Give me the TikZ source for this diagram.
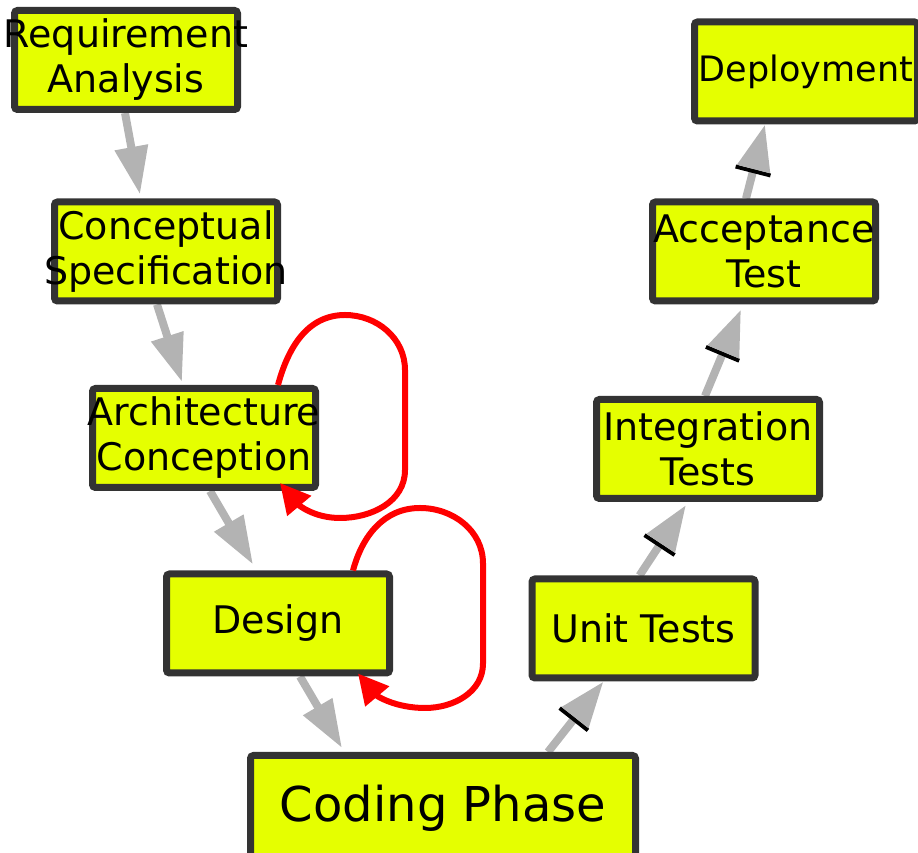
\documentclass[tikz,border=0pt]{standalone}
\usepackage{fontspec}
\setmainfont{DejaVu Sans}
\usetikzlibrary{arrows.meta, backgrounds}
\definecolor{phasefill}{HTML}{E5FF00}
\definecolor{phaseedge}{HTML}{333333}
\definecolor{flowgray}{HTML}{B3B3B3}
\newcommand{\fitline}[1]{\makebox[0pt]{#1}}
\tikzset{
  phase node/.style={
    rounded corners=3pt,
    draw=phaseedge,
    line width=7pt,
    fill=phasefill,
    align=center,
    inner sep=0pt,
    minimum width=223pt,
    minimum height=99pt,
    font=\fontsize{38}{45}\selectfont,
  },
  flow arrow/.style={
    draw=flowgray,
    line width=8pt,
    -{Triangle[width=32pt,length=48pt]},
  },
  test arrow/.style={
    draw=flowgray,
    line width=8pt,
    -{Bar[color=black,width=36pt,line width=4pt]Triangle[width=32pt,length=46pt,sep=0pt]},
  },
  loop arrow/.style={
    draw=red,
    line width=6pt,
    -{Triangle[width=30pt,length=30pt]},
  },
}

\begin{document}
\begin{tikzpicture}[x=1pt, y=1pt]
      \useasboundingbox (0,0) rectangle (918,853);

      % left branch
      \node[phase node] (req) at (126,793) {\fitline{Requirement}\\\fitline{Analysis}};
      \node[phase node] (conc) at (166,601.5) {\fitline{Conceptual}\\\fitline{Specification}};
      \node[phase node] (arch) at (204,415) {\fitline{Architecture}\\\fitline{Conception}};
      \node[phase node] (design) at (278,229.5) {Design};
      \node[phase node, minimum width=385pt, minimum height=105pt, font=\fontsize{48}{56}\selectfont] (coding) at (443,45) {Coding Phase};

      % right branch
      \node[phase node] (unit) at (643.5,224.5) {Unit Tests};
      \node[phase node] (integ) at (708,404) {\fitline{Integration}\\\fitline{Tests}};
      \node[phase node] (accept) at (764,601.5) {\fitline{Acceptance}\\\fitline{Test}};
      \node[phase node, font=\fontsize{35}{45}\selectfont] (deploy) at (806,781.5) {\fitline{Deployment}};

      \begin{scope}[on background layer]
        \draw[flow arrow] ([xshift=-1pt]req.south) -- ([xshift=-26pt,yshift=4pt]conc.north);
        \draw[flow arrow] ([xshift=-9pt]conc.south) -- ([xshift=-22pt,yshift=3pt]arch.north);
        \draw[flow arrow] ([xshift=6pt]arch.south) -- ([xshift=-25pt,yshift=6pt]design.north);
        \draw[flow arrow] ([xshift=22pt]design.south) -- ([xshift=-101pt,yshift=4pt]coding.north);

        \draw[test arrow] ([xshift=105pt]coding.north) -- ([xshift=-40pt]unit.south);
        \draw[test arrow] ([xshift=-4pt]unit.north) -- ([xshift=-22pt,yshift=-3pt]integ.south);
        \draw[test arrow] ([xshift=-3pt]integ.north) -- ([xshift=-23pt,yshift=-5pt]accept.south);
        \draw[test arrow] ([xshift=-18pt]accept.north) -- ([xshift=-41pt]deploy.south);
      \end{scope}

      % rework loops
      \draw[loop arrow] ([xshift=-41pt]arch.north east)
        to[out=75,in=180] ([shift={(141,123)}]arch.center)
        to[out=0,in=90] ([shift={(201,68)}]arch.center)
        -- ([shift={(201,-32)}]arch.center)
        to[out=-90,in=0] ([shift={(136,-80)}]arch.center)
        to[out=180,in=-50] ([shift={(76,8)}]arch.south);
      \draw[loop arrow] ([xshift=-40pt]design.north east)
        to[out=75,in=180] ([shift={(142,115.5)}]design.center)
        to[out=0,in=90] ([shift={(205,60)}]design.center)
        -- ([shift={(205,-40)}]design.center)
        to[out=-90,in=0] ([shift={(147,-84.5)}]design.center)
        to[out=180,in=-50] ([shift={(80,3)}]design.south);
    \end{tikzpicture}
\end{document}
